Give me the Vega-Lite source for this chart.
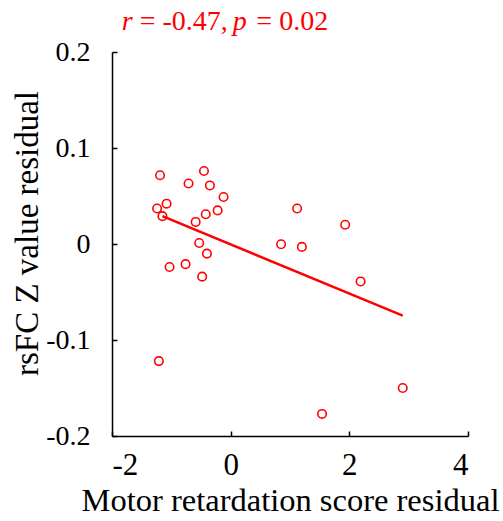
{
  "$schema": "https://vega.github.io/schema/vega-lite/v6.json",
  "width": 356,
  "height": 384,
  "autosize": "none",
  "padding": {"left": 112, "top": 52, "right": 35, "bottom": 85},
  "background": "white",
  "config": {
    "view": {"stroke": null},
    "font": "Liberation Serif",
    "axis": {
      "grid": false,
      "domainColor": "#000000",
      "domainWidth": 1.5,
      "tickColor": "#000000",
      "tickWidth": 1.5,
      "tickSize": -5,
      "labelColor": "#000000",
      "titleColor": "#000000",
      "labelFont": "Times New Roman",
      "titleFont": "Liberation Serif",
      "titleFontWeight": "normal"
    }
  },
  "datasets": {
    "pts": [
      {"x": -1.19, "y": 0.0716},
      {"x": -0.45, "y": 0.076},
      {"x": -0.71, "y": 0.063},
      {"x": -0.35, "y": 0.061},
      {"x": -0.12, "y": 0.049},
      {"x": -1.08, "y": 0.042},
      {"x": -1.24, "y": 0.037},
      {"x": -1.15, "y": 0.029},
      {"x": -0.22, "y": 0.035},
      {"x": -0.42, "y": 0.031},
      {"x": -0.59, "y": 0.023},
      {"x": 1.12, "y": 0.037},
      {"x": -0.53, "y": 0.001},
      {"x": 0.85, "y": -0.0003},
      {"x": 1.2, "y": -0.003},
      {"x": -0.4, "y": -0.01},
      {"x": -0.76, "y": -0.021},
      {"x": -1.03, "y": -0.024},
      {"x": -0.48, "y": -0.034},
      {"x": 1.93, "y": 0.02},
      {"x": 2.19, "y": -0.039},
      {"x": 2.9, "y": -0.15},
      {"x": 1.54, "y": -0.177},
      {"x": -1.21, "y": -0.122}
    ],
    "fit": [
      {"x": -1.15, "y": 0.029},
      {"x": 2.9, "y": -0.0747}
    ]
  },
  "layer": [
    {
      "data": {"name": "pts"},
      "mark": {"type": "point", "shape": "circle", "filled": false, "color": "#ff0000", "size": 72, "strokeWidth": 1.6, "opacity": 1},
      "encoding": {
        "x": {
          "field": "x", "type": "quantitative",
          "scale": {"domain": [-2, 4], "nice": false, "zero": false},
          "axis": {
            "values": [-2, 0, 2, 4],
            "labelExpr": "datum.value < 0 ? '-' + format(-datum.value, '~g') : format(datum.value, '~g')",
            "labelFont": "Times New Roman",
            "labelFontSize": 31,
            "labelPadding": 19,
            "title": "Motor retardation score residual",
            "titleFont": "Liberation Serif",
            "titleFontSize": 32.5,
            "titleBaseline": "alphabetic",
            "titleAlign": "center",
            "titleAnchor": "middle",
            "titleX": 178,
            "titleY": 74
          }
        },
        "y": {
          "field": "y", "type": "quantitative",
          "scale": {"domain": [-0.2, 0.2], "nice": false, "zero": false},
          "axis": {
            "values": [-0.2, -0.1, 0, 0.1, 0.2],
            "labelExpr": "datum.value < 0 ? '-' + format(-datum.value, '~g') : format(datum.value, '~g')",
            "labelFont": "Times New Roman",
            "labelFontSize": 28,
            "labelPadding": 27,
            "title": "rsFC Z value residual",
            "titleFont": "Liberation Serif",
            "titleFontSize": 33,
            "titleBaseline": "alphabetic",
            "titleAlign": "center",
            "titleAngle": -90,
            "titleX": -75,
            "titleY": 181
          }
        }
      }
    },
    {
      "data": {"name": "fit"},
      "mark": {"type": "line", "color": "#ff0000", "strokeWidth": 2.5},
      "encoding": {
        "x": {"field": "x", "type": "quantitative"},
        "y": {"field": "y", "type": "quantitative"}
      }
    },
    {
      "data": {"values": [{}]},
      "mark": {"type": "text", "text": "r", "fontStyle": "italic", "font": "Liberation Serif", "fontSize": 28, "color": "#ff0000", "align": "left", "baseline": "alphabetic"},
      "encoding": {"x": {"datum": -1.837, "type": "quantitative"}, "y": {"datum": 0.2229, "type": "quantitative"}}
    },
    {
      "data": {"values": [{}]},
      "mark": {"type": "text", "text": "= -0.47,", "font": "Liberation Serif", "fontSize": 28, "color": "#ff0000", "align": "left", "baseline": "alphabetic"},
      "encoding": {"x": {"datum": -1.534, "type": "quantitative"}, "y": {"datum": 0.2229, "type": "quantitative"}}
    },
    {
      "data": {"values": [{}]},
      "mark": {"type": "text", "text": "p", "fontStyle": "italic", "font": "Liberation Serif", "fontSize": 28, "color": "#ff0000", "align": "left", "baseline": "alphabetic"},
      "encoding": {"x": {"datum": 0.034, "type": "quantitative"}, "y": {"datum": 0.2229, "type": "quantitative"}}
    },
    {
      "data": {"values": [{}]},
      "mark": {"type": "text", "text": "= 0.02", "font": "Liberation Serif", "fontSize": 28, "color": "#ff0000", "align": "left", "baseline": "alphabetic"},
      "encoding": {"x": {"datum": 0.433, "type": "quantitative"}, "y": {"datum": 0.2229, "type": "quantitative"}}
    }
  ]
}
